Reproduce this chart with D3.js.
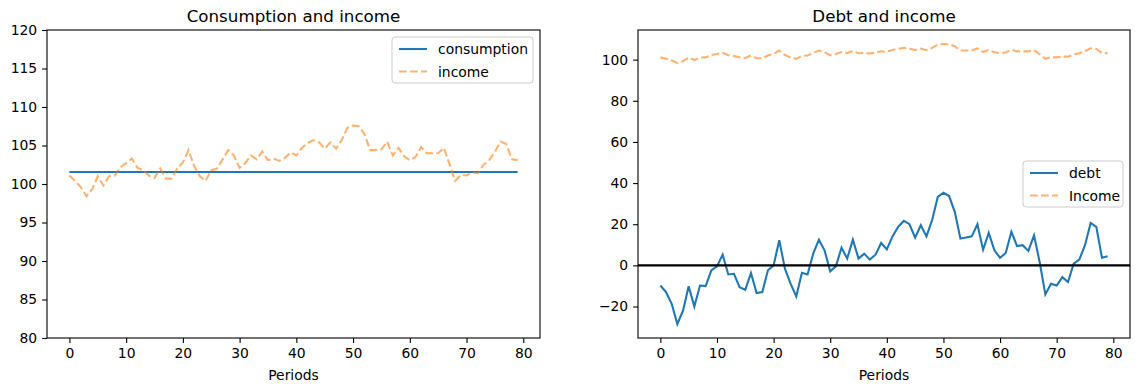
<!DOCTYPE html>
<html><head><meta charset="utf-8">
<script src="https://cdn.jsdelivr.net/npm/d3@7"></script>
<style>body{margin:0;background:#fff}svg{display:block;font-family:"DejaVu Sans",sans-serif}</style>
</head><body><svg id="c" width="1141" height="391"></svg>
<script>
const periods = d3.range(80);
const consumptionLevel = 101.55;
const income = [101.1,100.4,99.6,98.4,99.3,101.0,99.8,101.0,101.1,102.2,
102.7,103.3,102.1,101.8,101.1,100.8,102.0,100.7,100.7,102.0,
102.8,104.4,102.3,101.0,100.4,101.8,102.0,103.2,104.4,103.7,
102.1,102.7,103.7,103.2,104.2,103.1,103.3,103.0,103.4,104.1,
103.7,104.7,105.3,105.7,105.4,104.6,105.4,104.6,105.7,107.3,
107.6,107.5,106.5,104.4,104.4,104.5,105.5,103.7,104.7,103.6,
103.1,103.5,104.8,104.0,104.0,104.0,104.7,102.6,100.4,101.2,
101.1,101.5,101.4,102.5,103.1,104.2,105.5,105.2,103.2,103.1];
const debt = [-9.8,-13.0,-18.7,-28.5,-22.0,-10.2,-20.0,-9.8,-10.1,-2.4,
-0.5,5.2,-4.4,-4.1,-10.6,-11.9,-3.7,-13.5,-13.0,-2.4,
0.0,12.2,-1.6,-8.9,-15.1,-3.6,-4.4,5.7,12.5,7.3,
-2.9,-0.5,8.6,3.3,12.5,3.3,5.7,2.8,5.2,10.9,
7.8,14.1,18.7,21.6,20.0,13.5,19.5,14.1,22.0,33.3,
35.3,33.7,26.0,13.0,13.5,14.1,20.0,7.6,15.8,7.3,
3.7,6.0,16.3,9.4,9.8,7.0,14.6,1.5,-14.1,-8.9,
-9.8,-5.7,-8.1,0.8,2.8,9.8,20.6,18.7,3.7,4.4];
const xTicks = [0,10,20,30,40,50,60,70,80];
const leftYTicks = [80,85,90,95,100,105,110,115,120];
const rightYTicks = [-20,0,20,40,60,80,100];
const titles = ["Consumption and income","Debt and income"];
const leftLegend = ["consumption","income"];
const rightLegend = ["debt","Income"];
const xLabel = "Periods";

const svg = d3.select("#c");
const blue = "#1f77b4", orange = "#ff7f0e";
const axTop = 30, axBottom = 338;
const LW = 2.08, DASH = "7.7,3.3";

function margined(lo, hi){ const m=(hi-lo)*0.05; return [lo-m, hi+m]; }

function panel(x0, x1, ydomain, yticks, title){
  const g = svg.append("g");
  const x = d3.scaleLinear().domain(margined(0,79)).range([x0,x1]);
  const y = d3.scaleLinear().domain(ydomain).range([axBottom,axTop]);
  const clipId = "clip"+x0;
  svg.append("clipPath").attr("id",clipId).append("rect").attr("x",x0).attr("y",axTop).attr("width",x1-x0).attr("height",axBottom-axTop);
  const xa = g.append("g").attr("transform",`translate(0,${axBottom})`).call(d3.axisBottom(x).tickValues(xTicks).tickSize(4.9).tickPadding(4.9));
  const ya = g.append("g").attr("transform",`translate(${x0},0)`).call(d3.axisLeft(y).tickValues(yticks).tickSize(4.9).tickPadding(4.9));
  [xa,ya].forEach(a=>{a.select(".domain").remove();a.selectAll("line").attr("stroke","#000").attr("stroke-width",1.1);a.selectAll("text").attr("font-size",13.9).attr("fill","#000").attr("font-family","DejaVu Sans");});
  const plot = g.append("g").attr("clip-path",`url(#${clipId})`);
  g.append("text").attr("x",(x0+x1)/2).attr("y",axTop-8).attr("text-anchor","middle").attr("font-size",16.7).text(title);
  g.append("text").attr("x",(x0+x1)/2).attr("y",380).attr("text-anchor","middle").attr("font-size",13.9).text(xLabel);
  g.append("rect").attr("x",x0).attr("y",axTop).attr("width",x1-x0).attr("height",axBottom-axTop).attr("fill","none").attr("stroke","#000").attr("stroke-width",1.1);
  return {g, x, y, plot};
}

function legend(g, xRight, yTop, labels, styles){
  const w = xRight - (styles.w);
  const h = 46;
  const lg = g.append("g");
  lg.append("rect").attr("x",w).attr("y",yTop).attr("width",styles.w).attr("height",h).attr("rx",3)
    .attr("fill","#fff").attr("fill-opacity",0.8).attr("stroke","#cccccc").attr("stroke-width",1);
  labels.forEach((lab,i)=>{
    const cy = yTop + 12 + i*22.5;
    const s = styles.items[i];
    lg.append("line").attr("x1",w+7).attr("x2",w+35).attr("y1",cy).attr("y2",cy)
      .attr("stroke",s.color).attr("stroke-width",LW).attr("stroke-opacity",s.opacity)
      .attr("stroke-dasharray",s.dash||null);
    lg.append("text").attr("x",w+46).attr("y",cy+5).attr("font-size",13.9).text(lab);
  });
}

// Left panel
const L = panel(47, 540, [80,120], leftYTicks, titles[0]);
const lineL = d3.line().x((d,i)=>L.x(periods[i])).y(d=>L.y(d));
L.plot.append("path").datum(periods.map(()=>consumptionLevel)).attr("d",lineL).attr("fill","none").attr("stroke",blue).attr("stroke-width",LW);
L.plot.append("path").datum(income).attr("d",lineL).attr("fill","none").attr("stroke",orange).attr("stroke-opacity",0.6).attr("stroke-width",LW).attr("stroke-dasharray",DASH);
legend(L.g, 533, 37, leftLegend, {w:141, items:[{color:blue,opacity:1},{color:orange,opacity:0.6,dash:DASH}]});

// Right panel
const allR = debt.concat(income);
const R = panel(638, 1130, margined(d3.min(allR), d3.max(allR)), rightYTicks, titles[1]);
const lineR = d3.line().x((d,i)=>R.x(periods[i])).y(d=>R.y(d));
R.plot.append("path").datum(debt).attr("d",lineR).attr("fill","none").attr("stroke",blue).attr("stroke-width",LW);
R.plot.append("path").datum(income).attr("d",lineR).attr("fill","none").attr("stroke",orange).attr("stroke-opacity",0.6).attr("stroke-width",LW).attr("stroke-dasharray",DASH);
R.plot.append("line").attr("x1",638).attr("x2",1130).attr("y1",R.y(0)).attr("y2",R.y(0)).attr("stroke","#000").attr("stroke-width",LW);
legend(R.g, 1123, 161, rightLegend, {w:100, items:[{color:blue,opacity:1},{color:orange,opacity:0.6,dash:DASH}]});
</script></body></html>
